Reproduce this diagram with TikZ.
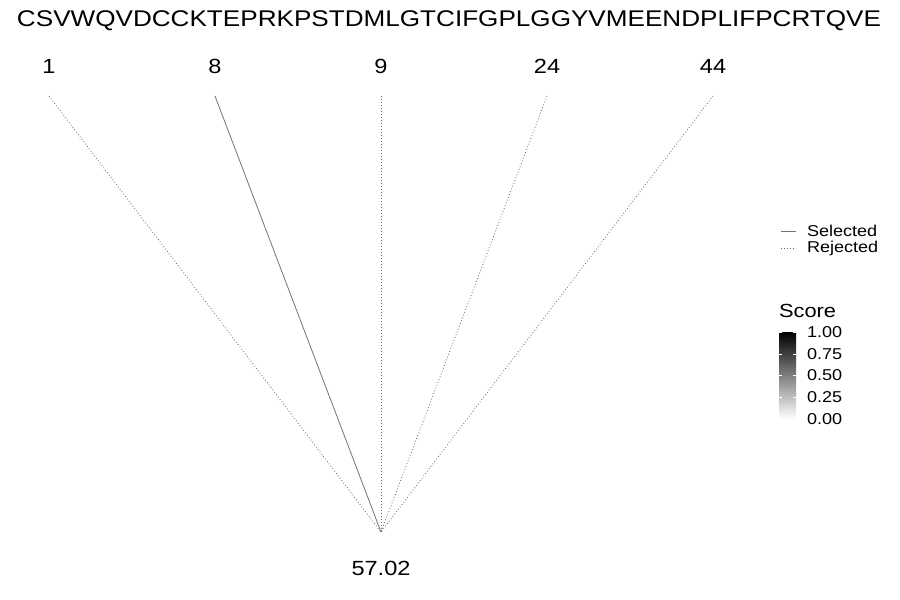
\documentclass[tikz,border=0pt]{standalone}
\usepackage{fontspec}
\setmainfont{Liberation Sans}[FakeStretch=1.15]
\usepackage{tikz}
\usetikzlibrary{positioning, calc}

\begin{document}
\begin{tikzpicture}[
    x=1pt, y=-1pt,
    every node/.style={inner sep=0pt, outer sep=0pt},
    seqtext/.style={font=\fontsize{22.7}{27}\selectfont},
    postext/.style={font=\fontsize{20.5}{24}\selectfont},
    legtext/.style={font=\fontsize{15.7}{19}\selectfont, anchor=west},
    selected/.style={draw=black!55, line width=0.8pt},
    rejected/.style={draw=black!60, line width=0.8pt, dash pattern=on 0.8pt off 2.2pt}
]
\useasboundingbox (0,0) rectangle (900,600);

% Sequence
\node (seq) [seqtext] at (449,21) {CSVWQVDCCKTEPRKPSTDMLGTCIFGPLGGYVMEENDPLIFPCRTQVE};

% Positions
\node (p1) [postext] at (49,66) {1};
\node (p8) [postext] at (215,66) {8};
\node (p9) [postext] at (381,66) {9};
\node (p24) [postext] at (547,66) {24};
\node (p44) [postext] at (713,66) {44};

\coordinate (t1) at (49,96);
\coordinate (t8) at (215,96);
\coordinate (t9) at (381,96);
\coordinate (t24) at (547,96);
\coordinate (t44) at (713,96);

% Mass
\coordinate (root) at (381,532);
\node (mass) [postext] at (381,568) {57.02};

% Links
\draw [rejected] (t1) -- (root);
\draw [selected] (t8) -- (root);
\draw [rejected] (t9) -- (root);
\draw [rejected] (t24) -- (root);
\draw [rejected] (t44) -- (root);

% Legend
\draw [selected] (781,231) -- (796,231);
\node (sel) [legtext] at (807,231) {Selected};
\draw [rejected] (781,248) -- (796,248);
\node (rej) [legtext] at (807,248) {Rejected};

% Colour bar
\node (score) [font=\fontsize{19}{22}\selectfont, anchor=west] at (779,311) {Score};
\shade [top color=black, bottom color=white] (779,332) rectangle (796,419);
\foreach \y/\lab in {332/1.00, 353.75/0.75, 375.5/0.50, 397.25/0.25, 419/0.00} {
    \draw [white, line width=0.5pt] (779,\y) -- (782,\y) (793,\y) -- (796,\y);
    \node [legtext] at (807,\y) {\lab};
}

\end{tikzpicture}
\end{document}
